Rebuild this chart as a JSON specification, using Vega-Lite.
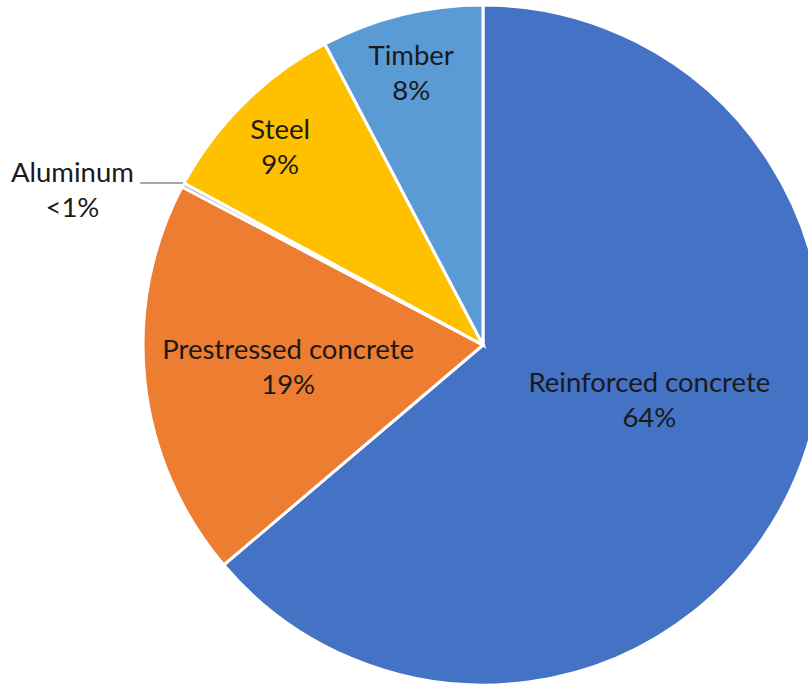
{
  "$schema": "https://vega.github.io/schema/vega-lite/v6.json",
  "width": 650,
  "height": 680,
  "autosize": {"type": "none"},
  "padding": {"left": 158, "top": 5, "right": 0, "bottom": 0},
  "background": "white",
  "config": {"view": {"stroke": null}, "text": {"font": "Lato", "fontSize": 27.5, "fill": "#1a1a1a", "lineHeight": 35}},
  "data": {
    "values": [
      {"cat": "Reinforced concrete", "rank": 1, "value": 63.8, "label": ["Reinforced concrete", "64%"]},
      {"cat": "Prestressed concrete", "rank": 2, "value": 18.9, "label": ["Prestressed concrete", "19%"]},
      {"cat": "Aluminum", "rank": 3, "value": 0.2, "label": ["Aluminum", "<1%"]},
      {"cat": "Steel", "rank": 4, "value": 9.4, "label": ["Steel", "9%"]},
      {"cat": "Timber", "rank": 5, "value": 7.7, "label": ["Timber", "8%"]}
    ]
  },
  "encoding": {
    "theta": {"field": "value", "type": "quantitative", "stack": true},
    "order": {"field": "rank", "type": "quantitative"}
  },
  "layer": [
    {
      "mark": {"type": "arc", "outerRadius": 340, "stroke": "white", "strokeWidth": 3},
      "encoding": {
        "color": {
          "field": "cat", "type": "nominal", "legend": null,
          "scale": {
            "domain": ["Reinforced concrete", "Prestressed concrete", "Aluminum", "Steel", "Timber"],
            "range": ["#4472C4", "#ED7D31", "#A5A5A5", "#FFC000", "#5B9BD5"]
          }
        }
      }
    },
    {
      "mark": {"type": "text", "radius": 180, "dy": -37, "dx": 3},
      "encoding": {
        "text": {"condition": {"test": "datum.cat === 'Reinforced concrete'", "field": "label"}, "value": ""}
      }
    },
    {
      "mark": {"type": "text", "radius": 196, "dy": -16},
      "encoding": {
        "text": {"condition": {"test": "datum.cat === 'Prestressed concrete'", "field": "label"}, "value": ""}
      }
    },
    {
      "mark": {"type": "text", "radius": 283, "dy": -13, "dx": -4},
      "encoding": {
        "text": {"condition": {"test": "datum.cat === 'Steel' || datum.cat === 'Timber'", "field": "label"}, "value": ""}
      }
    },
    {
      "mark": {"type": "text", "radius": 420, "dx": -40, "dy": 27},
      "encoding": {
        "text": {"condition": {"test": "datum.cat === 'Aluminum'", "field": "label"}, "value": ""}
      }
    },
    {
      "mark": {"type": "text", "radius": 420, "dx": 49, "dy": 30, "font": "DejaVu Sans", "fontSize": 28, "baseline": "alphabetic", "fill": "#A6A6A6"},
      "encoding": {
        "text": {"condition": {"test": "datum.cat === 'Aluminum'", "value": "___"}, "value": ""}
      }
    }
  ]
}
